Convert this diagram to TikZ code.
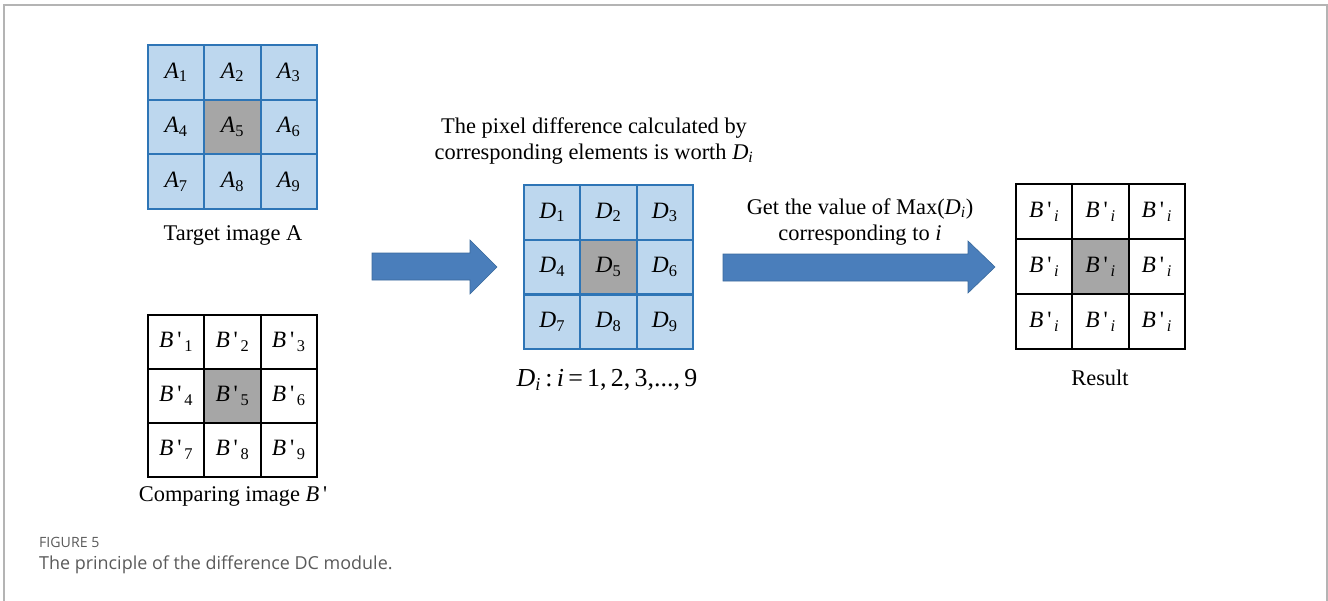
\documentclass[tikz,border=0pt]{standalone}
\usepackage{fontspec}
\setmainfont{Liberation Serif}
\newfontfamily\capfont{Open Sans}
\definecolor{cellblue}{HTML}{BDD7EE}
\definecolor{lineblue}{HTML}{2E75B6}
\definecolor{cellgray}{HTML}{A6A6A6}
\definecolor{arrowfill}{HTML}{4A7EBB}
\definecolor{arrowline}{HTML}{3A6A9C}
\definecolor{framegray}{HTML}{B4B4B4}
\definecolor{captgray}{HTML}{5A5A5A}
\newcommand\Sub[2]{\textit{#1}\textsubscript{#2}}
\newcommand\Bp[1]{\textit{B}\,\textquotesingle\textsubscript{\,#1}}
\tikzset{
  cellbox/.style={draw, minimum width=56.3bp, minimum height=54.7bp, inner sep=0pt, font=\fontsize{23.5}{25}\selectfont},
  bluecell/.style={cellbox, draw=lineblue, line width=2.2bp},
  blackcell/.style={cellbox, draw=black, line width=2bp},
  blockarrow/.style={fill=arrowfill, draw=arrowline, line width=0.6bp},
  lbl/.style={font=\fontsize{22.5}{26}\selectfont, align=center, inner sep=0pt},
}
\begin{document}
\begin{tikzpicture}[x=1bp,y=-1bp]
\useasboundingbox (0,0) rectangle (1328,601);
% frame
\draw[framegray, line width=1.5bp] (4,601) -- (4,5) -- (1327,5) -- (1327,601);
% grid A
\foreach \n/\c/\r/\f in {1/0/0/cellblue,2/1/0/cellblue,3/2/0/cellblue,4/0/1/cellblue,5/1/1/cellgray,6/2/1/cellblue,7/0/2/cellblue,8/1/2/cellblue,9/2/2/cellblue}
  \node[bluecell, fill=\f] (a\n) at (148+28.15+\c*56.3, 45+27.35+\r*54.7) {\Sub{A}{\n}};
\node[lbl] (capA) at (233,235) {Target image A};
% grid B'
\foreach \n/\c/\r/\f in {1/0/0/white,2/1/0/white,3/2/0/white,4/0/1/white,5/1/1/cellgray,6/2/1/white,7/0/2/white,8/1/2/white,9/2/2/white}
  \node[blackcell, fill=\f] (b\n) at (148+28.15+\c*56.3, 315+27+\r*54) {\Bp{\n}};
\node[lbl] (capB) at (233,496) {Comparing image \textit{B}\,\textquotesingle};
% grid D
\foreach \n/\c/\r/\f in {1/0/0/cellblue,2/1/0/cellblue,3/2/0/cellblue,4/0/1/cellblue,5/1/1/cellgray,6/2/1/cellblue,7/0/2/cellblue,8/1/2/cellblue,9/2/2/cellblue}
  \node[bluecell, fill=\f] (d\n) at (524+28.15+\c*56.3, 185+27.35+\r*54.7) {\Sub{D}{\n}};
\node[lbl] (topD) at (594,141) {The pixel difference calculated by\\corresponding elements is worth \Sub{D}{\textit{i}}};
\node[lbl, font=\fontsize{26}{28}\selectfont] (capD) at (607,380) {\Sub{D}{\textit{i}}\,:\,\textit{i}\,=\,1,\,2,\,3,...,\,9};
% result grid
\foreach \n/\c/\r/\f in {1/0/0/white,2/1/0/white,3/2/0/white,4/0/1/white,5/1/1/cellgray,6/2/1/white,7/0/2/white,8/1/2/white,9/2/2/white}
  \node[blackcell, fill=\f] (r\n) at (1016+28.15+\c*56.3, 184+27.5+\r*55) {\Bp{\textit{i}}};
\node[lbl] (capR) at (1100,378) {Result};
\node[lbl] (topR) at (860,222) {Get the value of Max(\Sub{D}{\textit{i}})\\corresponding to \textit{i}};
% block arrows
\draw[blockarrow] (372,253) -- (470,253) -- (470,240) -- (497,267) -- (470,294) -- (470,280) -- (372,280) -- cycle;
\draw[blockarrow] (723,254) -- (968,254) -- (968,241) -- (995,267) -- (968,293) -- (968,281) -- (723,281) -- cycle;
% caption
\node[anchor=west, inner sep=0pt, text=captgray, font=\capfont\fontsize{14.2}{16}\selectfont] (fig) at (39,542) {FIGURE 5};
\node[anchor=west, inner sep=0pt, text=captgray, font=\capfont\fontsize{18}{20}\selectfont] (caption) at (39,565) {The principle of the difference DC module.};
\end{tikzpicture}
\end{document}
